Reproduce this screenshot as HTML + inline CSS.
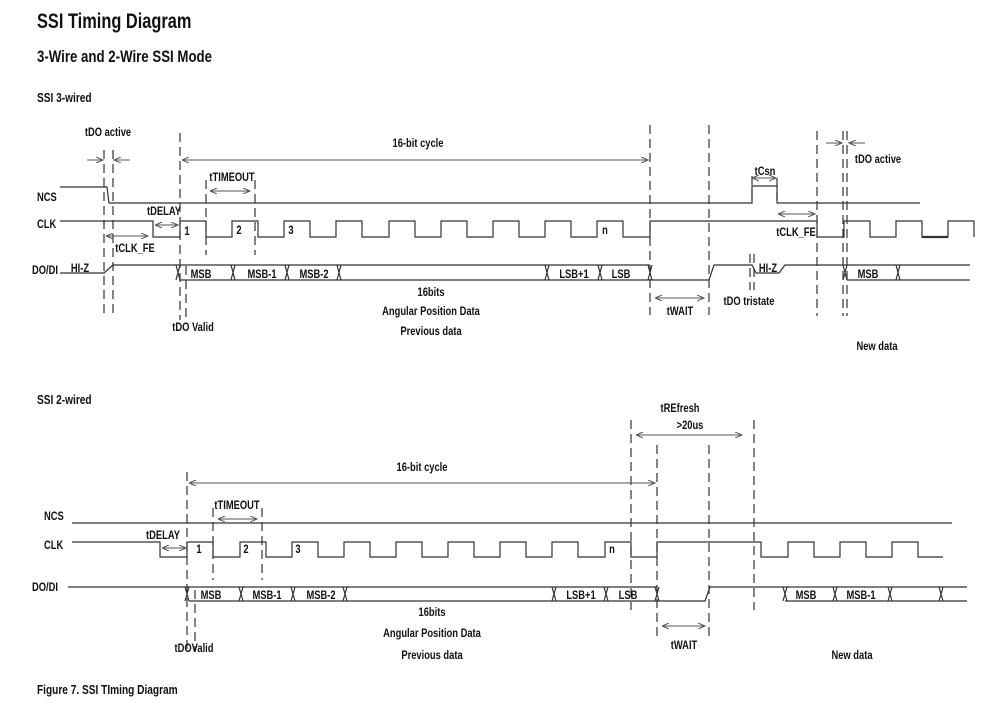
<!DOCTYPE html>
<html><head><meta charset="utf-8"><style>
html,body{margin:0;padding:0;background:#fff;}
svg{display:block;}
text{font-family:"Liberation Sans",sans-serif;font-weight:bold;fill:#111;}
.s{stroke:#333;stroke-width:1.2;fill:none;}
.d{stroke:#333;stroke-width:1.2;fill:none;stroke-dasharray:9,5;}
.a{stroke:#555;stroke-width:1;fill:none;marker-end:url(#ah);marker-start:url(#ahs);}
.a1{stroke:#555;stroke-width:1;fill:none;marker-end:url(#ah);}
.l{font-size:12px;text-anchor:middle;}
.L{font-size:12px;}
</style></head><body>
<svg width="999" height="702" viewBox="0 0 999 702" xmlns="http://www.w3.org/2000/svg">
<defs>
<marker id="ah" markerWidth="8" markerHeight="6" refX="7" refY="3" orient="auto" markerUnits="userSpaceOnUse"><path d="M0,0 L7,3 L0,6" fill="none" stroke="#555" stroke-width="1"/></marker>
<marker id="ahs" markerWidth="8" markerHeight="6" refX="0" refY="3" orient="auto" markerUnits="userSpaceOnUse"><path d="M7,0 L0,3 L7,6" fill="none" stroke="#555" stroke-width="1"/></marker>
</defs>

<!-- titles -->
<text transform="translate(37,28) scale(.78,1)" style="font-size:21px">SSI Timing Diagram</text>
<text transform="translate(37,62) scale(.78,1)" style="font-size:17px">3-Wire and 2-Wire SSI Mode</text>
<text transform="translate(37,102) scale(.78,1)" style="font-size:13px">SSI 3-wired</text>
<text transform="translate(37,404) scale(.78,1)" style="font-size:13px">SSI 2-wired</text>
<text transform="translate(37,694) scale(.78,1)" style="font-size:13px">Figure 7.  SSI TIming Diagram</text>

<!-- ===== TOP ===== -->
<text class="L" transform="translate(37,201) scale(.78,1)">NCS</text>
<text class="L" transform="translate(37,228) scale(.78,1)">CLK</text>
<text class="L" transform="translate(32,274) scale(.78,1)">DO/DI</text>

<path class="s" d="M60,187 H107 L109,203 H752 V186 H777 V203 H920"/>
<path class="s" d="M60,221 H153 V237 H180 V221 H206 V237 H232 V221 H258 V237 H284 V221 H310 V237 H336 V221 H362 V237 H389 V221 H415 V237 H441 V221 H467 V237 H493 V221 H519 V237 H545 V221 H571 V237 H597 V221 H623 V237 H650 V221 H817 V237 H844 V221 H870 V237 H896 V221 H922 V237 H948 V221 H974 V237"/>
<path class="s" d="M922,237 H948" style="stroke-width:2.2"/>
<!-- DO/DI top -->
<path class="s" d="M60,273 H104 L113,265 H650"/>
<path class="s" d="M180,280 H650"/>
<path class="s" d="M650,280 H709 L714,265 H752 L756,273 H779 L785,265 H970"/>
<path class="s" d="M847,280 H970"/>
<g class="s">
<path d="M176,265 L180,280 M180,265 L176,280"/>
<path d="M231,265 L235,280 M235,265 L231,280"/>
<path d="M285,265 L289,280 M289,265 L285,280"/>
<path d="M337,265 L341,280 M341,265 L337,280"/>
<path d="M545,265 L549,280 M549,265 L545,280"/>
<path d="M598,265 L602,280 M602,265 L598,280"/>
<path d="M648,265 L652,280 M652,265 L648,280"/>
<path d="M843,265 L847,280 M847,265 L843,280"/>
<path d="M896,265 L900,280 M900,265 L896,280"/>
</g>
<!-- dashed top -->
<path class="d" d="M104,150 V318 M113,150 V318 M180,133 V320 M186,266 V318 M206,180 V255 M255,180 V255 M650,125 V315 M709,125 V315 M750,254 V290 M754,254 V290 M817,131 V316 M843,131 V316 M847,131 V316 M752,176 V203"/>
<path class="d" d="M777,178 V200"/>
<!-- arrows top -->
<path class="a1" d="M87,160 H103"/><path class="a1" d="M130,160 H114"/>
<path class="a" d="M182,160 H648"/>
<path class="a" d="M210,191 H250"/>
<path class="a" d="M155,225 H178"/>
<path class="a" d="M106,236 H148"/>
<path class="a" d="M655,298 H704"/>
<path class="a" d="M752,178 H776"/>
<path class="a" d="M778,214 H815"/>
<path class="a1" d="M826,143 H842"/><path class="a1" d="M865,143 H849"/>
<!-- labels top -->
<text class="l" transform="translate(108,136) scale(.78,1)">tDO active</text>
<text class="l" transform="translate(418,147) scale(.78,1)">16-bit cycle</text>
<text class="l" transform="translate(232,181) scale(.78,1)">tTIMEOUT</text>
<text class="l" transform="translate(164,215) scale(.78,1)">tDELAY</text>
<text class="l" transform="translate(135,252) scale(.78,1)">tCLK_FE</text>
<text class="l" transform="translate(80,272) scale(.78,1)">HI-Z</text>
<text class="l" transform="translate(187,235) scale(.78,1)">1</text>
<text class="l" transform="translate(239,234) scale(.78,1)">2</text>
<text class="l" transform="translate(291,234) scale(.78,1)">3</text>
<text class="l" transform="translate(605,234) scale(.78,1)">n</text>
<text class="l" transform="translate(201,278) scale(.78,1)">MSB</text>
<text class="l" transform="translate(262,278) scale(.78,1)">MSB-1</text>
<text class="l" transform="translate(314,278) scale(.78,1)">MSB-2</text>
<text class="l" transform="translate(574,278) scale(.78,1)">LSB+1</text>
<text class="l" transform="translate(621,278) scale(.78,1)">LSB</text>
<text class="l" transform="translate(768,272) scale(.78,1)">HI-Z</text>
<text class="l" transform="translate(868,278) scale(.78,1)">MSB</text>
<text class="l" transform="translate(193,331) scale(.78,1)">tDO Valid</text>
<text class="l" transform="translate(431,296) scale(.78,1)">16bits</text>
<text class="l" transform="translate(431,315) scale(.78,1)">Angular Position Data</text>
<text class="l" transform="translate(431,335) scale(.78,1)">Previous data</text>
<text class="l" transform="translate(680,315) scale(.78,1)">tWAIT</text>
<text class="l" transform="translate(749,305) scale(.78,1)">tDO tristate</text>
<text class="l" transform="translate(765,175) scale(.78,1)">tCsn</text>
<text class="l" transform="translate(796,236) scale(.78,1)">tCLK_FE</text>
<text class="l" transform="translate(878,163) scale(.78,1)">tDO active</text>
<text class="l" transform="translate(877,350) scale(.78,1)">New data</text>

<!-- ===== BOTTOM ===== -->
<text class="L" transform="translate(44,520) scale(.78,1)">NCS</text>
<text class="L" transform="translate(44,549) scale(.78,1)">CLK</text>
<text class="L" transform="translate(32,591) scale(.78,1)">DO/DI</text>

<path class="s" d="M72,523 H952"/>
<path class="s" d="M72,542 H160 V557 H187 V542 H213 V557 H240 V542 H266 V557 H292 V542 H318 V557 H344 V542 H370 V557 H396 V542 H422 V557 H448 V542 H474 V557 H500 V542 H526 V557 H552 V542 H578 V557 H605 V542 H631 V557 H657 V542 H761 V557 H788 V542 H814 V557 H840 V542 H866 V557 H892 V542 H918 V557 H943"/>
<path class="s" d="M68,587 H657 M189,601 H657 M657,601 H705 L710,587 H967 M785,601 H967"/>
<g class="s">
<path d="M185,587 L189,601 M189,587 L185,601"/>
<path d="M239,587 L243,601 M243,587 L239,601"/>
<path d="M291,587 L295,601 M295,587 L291,601"/>
<path d="M343,587 L347,601 M347,587 L343,601"/>
<path d="M552,587 L556,601 M556,587 L552,601"/>
<path d="M604,587 L608,601 M608,587 L604,601"/>
<path d="M655,587 L659,601 M659,587 L655,601"/>
<path d="M783,587 L787,601 M787,587 L783,601"/>
<path d="M833,587 L837,601 M837,587 L833,601"/>
<path d="M888,587 L892,601 M892,587 L888,601"/>
<path d="M939,587 L943,601 M943,587 L939,601"/>
</g>
<path class="d" d="M187,472 V652 M195,590 V652 M213,508 V580 M262,508 V580 M631,420 V610 M657,445 V640 M709,445 V640 M754,420 V610"/>
<path class="a" d="M189,483 H655"/>
<path class="a" d="M218,519 H257"/>
<path class="a" d="M162,548 H186"/>
<path class="a" d="M636,435 H742"/>
<path class="a" d="M662,626 H705"/>
<text class="l" transform="translate(680,412) scale(.78,1)">tREfresh</text>
<text class="l" transform="translate(690,429) scale(.78,1)">&gt;20us</text>
<text class="l" transform="translate(422,471) scale(.78,1)">16-bit cycle</text>
<text class="l" transform="translate(237,509) scale(.78,1)">tTIMEOUT</text>
<text class="l" transform="translate(163,539) scale(.78,1)">tDELAY</text>
<text class="l" transform="translate(199,553) scale(.78,1)">1</text>
<text class="l" transform="translate(246,553) scale(.78,1)">2</text>
<text class="l" transform="translate(298,553) scale(.78,1)">3</text>
<text class="l" transform="translate(612,553) scale(.78,1)">n</text>
<text class="l" transform="translate(211,599) scale(.78,1)">MSB</text>
<text class="l" transform="translate(267,599) scale(.78,1)">MSB-1</text>
<text class="l" transform="translate(321,599) scale(.78,1)">MSB-2</text>
<text class="l" transform="translate(581,599) scale(.78,1)">LSB+1</text>
<text class="l" transform="translate(628,599) scale(.78,1)">LSB</text>
<text class="l" transform="translate(806,599) scale(.78,1)">MSB</text>
<text class="l" transform="translate(861,599) scale(.78,1)">MSB-1</text>
<text class="l" transform="translate(432,616) scale(.78,1)">16bits</text>
<text class="l" transform="translate(432,637) scale(.78,1)">Angular Position Data</text>
<text class="l" transform="translate(432,659) scale(.78,1)">Previous data</text>
<text class="l" transform="translate(194,652) scale(.78,1)">tDOValid</text>
<text class="l" transform="translate(684,649) scale(.78,1)">tWAIT</text>
<text class="l" transform="translate(852,659) scale(.78,1)">New data</text>
</svg>
</body></html>
